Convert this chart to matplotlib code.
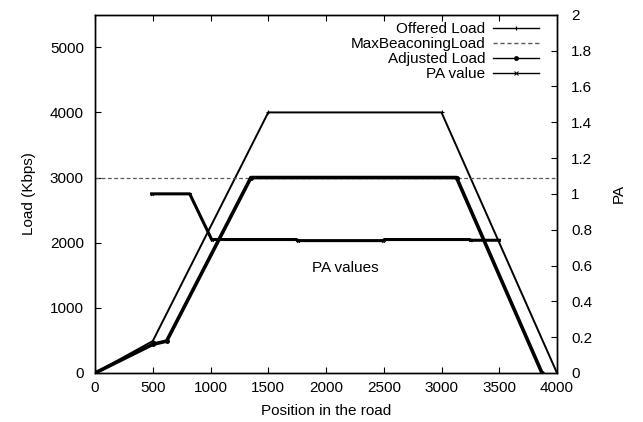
import matplotlib
matplotlib.use("Agg")
import matplotlib.pyplot as plt

plt.rcParams['font.family'] = ['Liberation Sans', 'DejaVu Sans']
plt.rcParams['font.size'] = 11

# Data
offered_x = [0, 500, 1500, 3000, 4000]
offered_y = [0, 490, 4000, 4000, 0]

maxbeacon_x = [0, 4000]
maxbeacon_y = [3000, 3000]

adjusted_x = [0, 500, 620, 1350, 3130, 3870]
adjusted_y = [0, 440, 490, 3000, 3000, 0]

pa_x = [490, 820, 1010, 1745, 1755, 2495, 2505, 3245, 3255, 3500]
pa_y = [1.0, 1.0, 0.745, 0.745, 0.739, 0.739, 0.745, 0.745, 0.741, 0.741]

xticks = [0, 500, 1000, 1500, 2000, 2500, 3000, 3500, 4000]
yticks = [0, 1000, 2000, 3000, 4000, 5000]
y2ticks = [0, 0.2, 0.4, 0.6, 0.8, 1.0, 1.2, 1.4, 1.6, 1.8, 2.0]
y2labels = ['0', '0.2', '0.4', '0.6', '0.8', '1', '1.2', '1.4', '1.6', '1.8', '2']

fig = plt.figure(figsize=(6.43, 4.22), dpi=100)
ax = fig.add_axes([95/643, 1-373/422, (557-95)/643, (373-14.7)/422])
ax2 = ax.twinx()

l1, = ax.plot(offered_x, offered_y, color='black', lw=1.4, marker='+', ms=3, mew=0.8,
              label='Offered Load')
l2, = ax.plot(maxbeacon_x, maxbeacon_y, color='0.35', lw=0.9, ls=(0, (3, 2)),
              label='MaxBeaconingLoad')
l3, = ax.plot(adjusted_x, adjusted_y, color='black', lw=2.6, marker='o', ms=2.5,
              label='Adjusted Load')
l4, = ax2.plot(pa_x, pa_y, color='black', lw=2.2, marker='x', ms=2.0, mew=0.7,
               label='PA value')

ax.set_xlim(0, 4000)
ax.set_ylim(0, 5500)
ax2.set_ylim(0, 2)

ax.set_xticks(xticks)
ax.set_yticks(yticks)
ax2.set_yticks(y2ticks)
ax2.set_yticklabels(y2labels)

ax.tick_params(axis='x', direction='in', length=4, top=True, pad=6, width=0.8)
ax.tick_params(axis='y', direction='in', length=4, right=False, pad=8, width=0.8)
ax2.tick_params(axis='y', direction='in', length=4, pad=10, width=0.8)

for a in (ax, ax2):
    for s in a.spines.values():
        s.set_linewidth(1.0)

ax.set_xlabel('Position in the road', labelpad=6)
ax.set_ylabel('Load (Kbps)', labelpad=10)
ax2.set_ylabel('PA', labelpad=14)

ax.text(2165, 1612, 'PA values', ha='center', va='center')

leg = ax.legend(handles=[l1, l2, l3, l4], loc='upper right', frameon=False,
                markerfirst=False, handlelength=3.0, handletextpad=0.5,
                labelspacing=0.07, borderaxespad=0.0, borderpad=0.0,
                bbox_to_anchor=((539-95)/462, 1-(22-14.7)/358.3))
for h in leg.legend_handles:
    h.set_linewidth(1.0)
    h.set_markersize(2.5)

fig.savefig('out.png', dpi=100)
